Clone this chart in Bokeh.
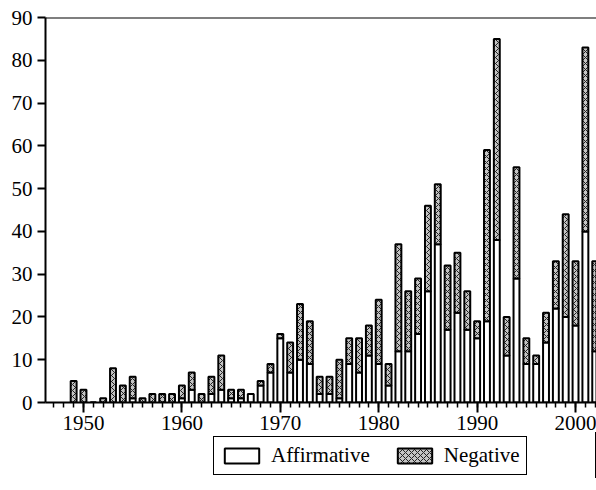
from bokeh.plotting import figure
from bokeh.layouts import column
from bokeh.models import (ColumnDataSource, Range1d, SingleIntervalTicker, FixedTicker,
                          Span, Legend, LegendItem)
from bokeh.transform import stack
from bokeh.embed import file_html
from bokeh.resources import INLINE

years = list(range(1949, 2003))
affirmative = [0, 0, 0, 0, 0, 0, 1, 0, 0, 0, 0, 1, 3, 0, 2, 3, 1, 1, 2, 4,
               7, 15, 7, 10, 9, 2, 2, 1, 9, 7, 11, 9, 4, 12, 12, 16, 26, 37, 17, 21,
               17, 15, 19, 38, 11, 29, 9, 9, 14, 22, 20, 18, 40, 12]
negative = [5, 3, 0, 1, 8, 4, 5, 1, 2, 2, 2, 3, 4, 2, 4, 8, 2, 2, 0, 1,
            2, 1, 7, 13, 10, 4, 4, 9, 6, 8, 7, 15, 5, 25, 14, 13, 20, 14, 15, 14,
            9, 4, 40, 47, 9, 26, 6, 2, 7, 11, 24, 15, 43, 21]
y_ticks = [0, 10, 20, 30, 40, 50, 60, 70, 80, 90]
series_names = ["Affirmative", "Negative"]

FONT = "Liberation Serif"
AFF_STYLE = dict(fill_color="white", line_color="black", line_width=2)
NEG_STYLE = dict(fill_color="#c4c4c4", line_color="black", line_width=2,
                 hatch_pattern="x", hatch_color="#222222", hatch_scale=6, hatch_weight=1)

src = ColumnDataSource(dict(year=years, aff=affirmative, neg=negative))

p = figure(frame_width=551, frame_height=385,
           x_range=Range1d(1946.14, 2002.13), y_range=Range1d(0, 90),
           output_backend="svg", toolbar_location=None,
           min_border_left=45, min_border_right=0, min_border_top=17, min_border_bottom=0)
p.outline_line_color = None
p.xgrid.visible = False
p.ygrid.visible = False

p.vbar(x="year", bottom=0, top="aff", width=0.6, source=src, **AFF_STYLE)
p.vbar(x="year", bottom="aff", top=stack("aff", "neg"), width=0.6, source=src, **NEG_STYLE)

p.add_layout(Span(location=90, dimension="width", line_color="black", line_width=2))

xa = p.xaxis[0]
xa.ticker = SingleIntervalTicker(interval=10, num_minor_ticks=10)
xa.major_tick_out = 10
xa.major_tick_in = 0
xa.minor_tick_out = 5
xa.minor_tick_in = 0
xa.axis_line_width = 2
xa.major_tick_line_width = 2
xa.minor_tick_line_width = 1.5
xa.major_label_text_font = FONT
xa.major_label_text_font_size = "21px"
xa.major_label_text_color = "black"
xa.major_label_standoff = 3

ya = p.yaxis[0]
ya.ticker = FixedTicker(ticks=y_ticks)
ya.major_tick_out = 8
ya.major_tick_in = 0
ya.minor_tick_out = 0
ya.minor_tick_in = 0
ya.axis_line_width = 2
ya.major_tick_line_width = 2
ya.major_label_text_font = FONT
ya.major_label_text_font_size = "21px"
ya.major_label_text_color = "black"
ya.major_label_standoff = 5

# legend strip: a small figure holding only the legend (its bars lie outside its view)
lf = figure(width=596, height=46, x_range=Range1d(0, 1), y_range=Range1d(0, 1),
            output_backend="svg", toolbar_location=None,
            min_border_left=0, min_border_right=0, min_border_top=0, min_border_bottom=0)
lf.axis.visible = False
lf.xgrid.visible = False
lf.ygrid.visible = False
lf.outline_line_color = None
la = lf.vbar(x="year", bottom=0, top="aff", width=0.6, source=src, **AFF_STYLE)
ln = lf.vbar(x="year", bottom="aff", top=stack("aff", "neg"), width=0.6, source=src, **NEG_STYLE)

legend = Legend(items=[LegendItem(label=series_names[0], renderers=[la]),
                       LegendItem(label=series_names[1], renderers=[ln])],
                orientation="horizontal", location=(168, 3),
                glyph_width=43, glyph_height=19, label_standoff=8, spacing=23,
                padding=6, margin=0, border_line_color="black", border_line_alpha=1,
                border_line_width=1.5,
                label_text_font=FONT, label_text_font_size="21px",
                label_text_color="black", background_fill_alpha=1)
lf.add_layout(legend, "center")

layout = column(p, lf)
open("out.html", "w").write(file_html(layout, INLINE))
